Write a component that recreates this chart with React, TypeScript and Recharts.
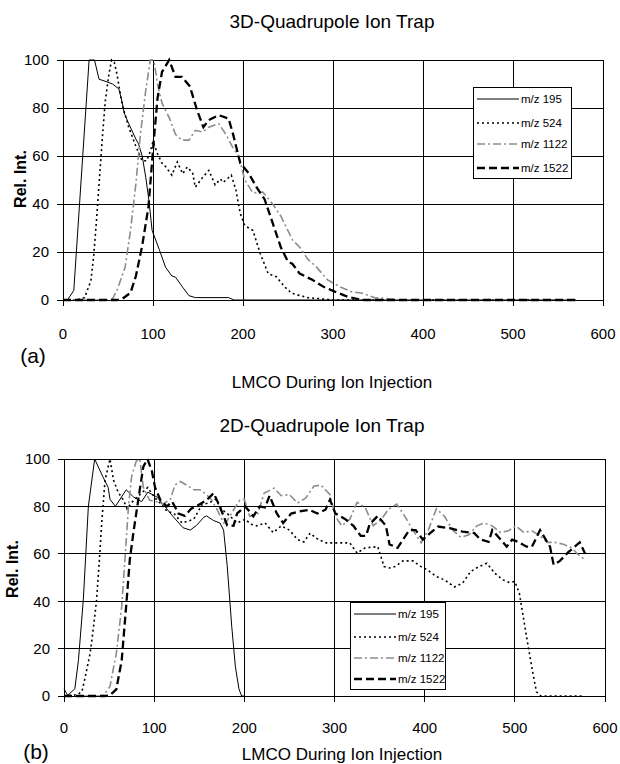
import React from 'react';
import { LineChart, Line, XAxis, YAxis, CartesianGrid, Legend } from 'recharts';

type Pt = [number, number];

const xTicks = [0, 100, 200, 300, 400, 500, 600];
const yTicks = [0, 20, 40, 60, 80, 100];
const seriesNames = ['m/z 195', 'm/z 524', 'm/z 1122', 'm/z 1522'];

// (a) 3D-Quadrupole Ion Trap
const trap3D_mz195: Pt[] = [[0,0],[5,0],[12,4],[29,100],[35,100],[40,92],[48,91],[55,90],[62,88],[66,82],[68,78],[73,73.5],[81,67],[84,65],[88,60],[92,51],[95.5,41.5],[99,29],[103,25],[107,21],[114,13.6],[121,10],[125,9.5],[133,5.3],[140,1.8],[147,1],[184,1],[190,0],[570,0]];
const trap3D_mz524: Pt[] = [[0,0],[15,0],[20,0.5],[24,1],[27,4],[31,8],[34,18],[37,32],[40,48],[44,69],[47,83],[51,94],[54,100],[57,99],[60,94],[66,81],[73,72],[81,64],[88,58],[93,58],[97,62],[100,66],[105,61],[110,57],[114,55.6],[121,52],[127,57.5],[133,52.6],[138,55.4],[144,53],[147,47],[151,49],[155,51],[162,54],[169,48],[175,50.4],[178,49],[184,51],[187,52],[192,46],[197,36],[202,31],[211,29],[219,19.5],[228,11],[237,9.7],[246,5.6],[254,2.8],[272,1],[289,0.4],[300,0],[570,0]];
const trap3D_mz1122: Pt[] = [[0,0],[50,0],[55,0.5],[60,4],[69,13.6],[75,29],[81,48.5],[86,69],[92,87.5],[97,100],[101,100],[105,90],[110,82],[118,76],[125,69],[132,66.6],[140,66.6],[147,70.7],[155,70],[162,72],[173,73.5],[181,69],[188,64],[195,60],[202,50],[211,44.6],[222,45],[233,40],[242,35],[255,25],[263,22],[272,17],[281,14],[294,8.4],[307,5.6],[320,3.5],[333,2.8],[346,1],[369,0.3],[375,0],[570,0]];
const trap3D_mz1522: Pt[] = [[0,0],[60,0],[66,0.5],[75,3],[81,10],[88,22.6],[95,39],[101,67],[105,84],[110,95],[118,100],[125,93],[132,93],[141,89],[149,79],[156,72],[162,75],[173,77],[184,75.6],[189,69],[197,57],[206,53],[215,47],[224,42],[233,32],[242,22],[250,16],[255,15],[263,11],[277,8.4],[289,5.6],[302,3.5],[316,1.4],[329,0.3],[335,0],[570,0]];

// (b) 2D-Quadrupole Ion Trap
const trap2D_mz195: Pt[] = [[0,3],[4,0.3],[12,3],[16,15],[21.5,41],[27,80],[34,100],[43,92.6],[49,88],[51,83],[57,80],[69,87],[77,84],[86,82],[93,86],[103,84],[114,79],[121,75.7],[132,71],[140,70],[147,72],[155,75.4],[158,76],[166,74],[173,73],[177,70],[181,55],[186,29.5],[190,12.6],[194,3],[197,0],[200,0]];
const trap2D_mz524: Pt[] = [[0,0],[15,0.5],[20,2],[23,7],[29,18],[33,30],[36,40],[39,56],[42,74],[45.5,91],[51,100],[55,91],[60,86],[66,82.6],[70,79],[75,81.6],[80,83.5],[86,85.6],[93,88],[97,85.6],[103,82.6],[108,81],[114,78],[122,77],[131,73],[144,74.6],[153,80.7],[161,81.5],[168,83],[175,78.7],[181,77],[192,73],[201,74.6],[207,72.5],[214,71.8],[223,73],[232,69],[241,71.8],[250,70],[259,66],[266,65],[273,68.7],[282,66],[291,64.6],[304,64.6],[317,64.6],[325,60.3],[334,62.5],[348,63],[355,54.6],[361,54],[367,54.6],[376,57],[387,57],[396,54.6],[404,53],[413,50.4],[422,49],[433,46],[442,47.6],[451,52.5],[460,54.6],[469,56],[478,51.7],[487,49],[494,47.9],[500,48.3],[505,43.4],[513,25],[520,9.6],[524,1.8],[529,0],[575,0]];
const trap2D_mz1122: Pt[] = [[0,0],[40,0],[44,0.3],[51,4],[58,18],[64,37.6],[68,60],[71.5,80],[75,92.6],[80,99],[84,100],[88,88],[95,82.6],[103,82],[110,81],[118,83],[123,89],[129,90.5],[136,89],[144,87],[151,87],[158,85],[164,82.6],[170,78.5],[177,73],[181,74],[188,78.5],[195,82.6],[200,83],[206,75.8],[215,77],[222,85.6],[233,87.7],[241,84.5],[250,85],[259,81.4],[268,83.5],[277,88.5],[285,89],[295,85],[301,75.8],[308,71.8],[317,74.6],[325,81.7],[334,79.6],[343,71.8],[352,74.6],[360,78.8],[369,81],[378,75.8],[387,70],[396,64.6],[404,70],[413,79],[422,75.8],[431,70],[440,67],[449,68],[458,71.8],[466,73],[475,71.8],[484,69],[493,69.7],[501,71.8],[510,69],[519,69.7],[528,67.6],[536,64.8],[545,64.8],[554,64],[563,62.5],[572,59],[578,57.6]];
const trap2D_mz1522: Pt[] = [[0,0],[45,0],[51,0.3],[58,2.8],[64,15],[69.6,41],[73,57.6],[77,69],[80.7,78.5],[84.4,88],[88,96.8],[92.6,100],[97.4,95],[101,88],[107,82.6],[114,80],[120,82],[127,77],[134,76],[141,79],[151,81],[158,82.6],[166,85.6],[171,81.4],[177,76],[181,72],[188,71.8],[192,77],[201,80],[210,75.8],[217,80],[223,79.6],[228,84.5],[236,77],[243,73],[252,77],[263,78],[272,78.6],[281,77],[290,78.6],[295,82.8],[301,77],[312,74.6],[321,71.8],[329,67.6],[335,67.6],[339,72.5],[348,76],[357,71.8],[361,64],[370,62.5],[376,66],[383,70],[390,70],[398,66],[406,68.7],[415,71.5],[428,70.8],[442,69.4],[455,68.7],[462,66],[471,65],[475,70],[482,67],[491,63],[497,66],[504,65],[513,63],[519,63],[528,70],[539,63],[543,55.4],[550,57],[559,60.6],[572,64.8],[578,60]];

const FONT = "'Liberation Sans', Arial, Helvetica, sans-serif";

const lineStyles = [
  { stroke: '#000', strokeWidth: 1, dash: undefined as string | undefined },
  { stroke: '#000', strokeWidth: 1.6, dash: '2 3' },
  { stroke: '#8c8c8c', strokeWidth: 1.6, dash: '8 3 2 3' },
  { stroke: '#000', strokeWidth: 2.3, dash: '8 4' },
];

const toRows = (pts: Pt[]) => pts.map(([x, y]) => ({ x, y }));

type LegendGeom = { left: number; top: number; w: number; h: number; rows: number[] };

const LegendBox = ({ g }: { g: LegendGeom }) => (
  <div style={{ width: g.w, height: g.h, border: '1px solid #000', background: '#fff', boxSizing: 'border-box', position: 'relative', fontFamily: FONT, fontSize: 11.5, color: '#000' }}>
    {seriesNames.map((n, i) => (
      <div key={n} style={{ position: 'absolute', left: 3, top: g.rows[i] - 8, height: 16, display: 'flex', alignItems: 'center', whiteSpace: 'nowrap' }}>
        <svg width={42} height={16} style={{ display: 'block' }}>
          <line x1={0} x2={42} y1={8} y2={8} stroke={lineStyles[i].stroke} strokeWidth={lineStyles[i].strokeWidth} strokeDasharray={lineStyles[i].dash} />
        </svg>
        <span style={{ marginLeft: 2, lineHeight: '16px' }}>{n}</span>
      </div>
    ))}
  </div>
);

type PanelProps = {
  top: number;
  height: number;
  series: Pt[][];
  margin: { top: number; right: number; bottom: number; left: number };
  yAxisWidth: number;
  tickMargin: number;
  legend: LegendGeom;
};

const gridLine = { stroke: '#000', strokeWidth: 1, strokeOpacity: 1, shapeRendering: 'crispEdges' };

const Panel = ({ top, height, series, margin, yAxisWidth, tickMargin, legend }: PanelProps) => (
  <div style={{ position: 'absolute', left: 0, top, width: 620, height }}>
    <LineChart width={620} height={height} margin={margin}>
      <CartesianGrid stroke="#000" strokeWidth={1} strokeOpacity={1} shapeRendering="crispEdges" horizontal={gridLine} vertical={gridLine} />
      <XAxis dataKey="x" type="number" domain={[0, 600]} ticks={xTicks} interval={0} height={40}
        axisLine={{ stroke: '#000', strokeWidth: 1, shapeRendering: 'crispEdges' }} tickLine={{ stroke: '#000', shapeRendering: 'crispEdges' }} tickSize={6} tickMargin={tickMargin}
        tick={{ fill: '#000', fontSize: 15, fontFamily: FONT }} allowDuplicatedCategory={false} />
      <YAxis type="number" domain={[0, 100]} ticks={yTicks} interval={0} width={yAxisWidth}
        axisLine={{ stroke: '#000', strokeWidth: 1, shapeRendering: 'crispEdges' }} tickLine={{ stroke: '#000', shapeRendering: 'crispEdges' }} tickSize={6} tickMargin={8}
        tick={{ fill: '#000', fontSize: 15, fontFamily: FONT }} />
      {series.map((pts, i) => (
        <Line key={seriesNames[i]} name={seriesNames[i]} data={toRows(pts)} dataKey="y" type="linear"
          dot={false} activeDot={false} isAnimationActive={false}
          stroke={lineStyles[i].stroke} strokeWidth={lineStyles[i].strokeWidth} strokeDasharray={lineStyles[i].dash} />
      ))}
      <Legend layout="horizontal" align="center" verticalAlign="middle"
        wrapperStyle={{ left: legend.left, top: legend.top, width: legend.w, height: legend.h }}
        content={() => <LegendBox g={legend} />} />
    </LineChart>
  </div>
);

const Txt = ({ cx, cy, fs, children, bold, rotate }: { cx: number; cy: number; fs: number; children: React.ReactNode; bold?: boolean; rotate?: boolean }) => (
  <div style={{ position: 'absolute', left: cx, top: cy, transform: `translate(-50%, -50%)${rotate ? ' rotate(-90deg)' : ''}`, fontFamily: FONT, fontSize: fs, lineHeight: `${fs}px`, fontWeight: bold ? 'bold' : 'normal', whiteSpace: 'nowrap', color: '#000' }}>
    {children}
  </div>
);

export default function App() {
  return (
    <div style={{ position: 'absolute', left: 0, top: 0, width: 620, height: 764, background: '#fff', overflow: 'hidden' }}>
      <Panel top={0} height={380}
        series={[trap3D_mz195, trap3D_mz524, trap3D_mz1122, trap3D_mz1522]}
        margin={{ top: 60, right: 17, bottom: 40, left: 0 }} yAxisWidth={63} tickMargin={22}
        legend={{ left: 473, top: 87, w: 99, h: 92, rows: [11, 35, 56, 80] }} />
      <Panel top={380} height={384}
        series={[trap2D_mz195, trap2D_mz524, trap2D_mz1122, trap2D_mz1522]}
        margin={{ top: 79, right: 15, bottom: 28, left: 0 }} yAxisWidth={64} tickMargin={20}
        legend={{ left: 350, top: 222, w: 96, h: 88, rows: [11, 34, 55, 76] }} />
      <Txt cx={332} cy={21} fs={19}>3D-Quadrupole Ion Trap</Txt>
      <Txt cx={21} cy={179} fs={16} bold rotate>Rel. Int.</Txt>
      <Txt cx={33} cy={355} fs={21}>(a)</Txt>
      <Txt cx={332} cy={382} fs={17}>LMCO During Ion Injection</Txt>
      <Txt cx={322} cy={425} fs={19}>2D-Quadrupole Ion Trap</Txt>
      <Txt cx={13} cy={569} fs={16} bold rotate>Rel. Int.</Txt>
      <Txt cx={36} cy={751} fs={21}>(b)</Txt>
      <Txt cx={342} cy={754} fs={17}>LMCO During Ion Injection</Txt>
    </div>
  );
}
